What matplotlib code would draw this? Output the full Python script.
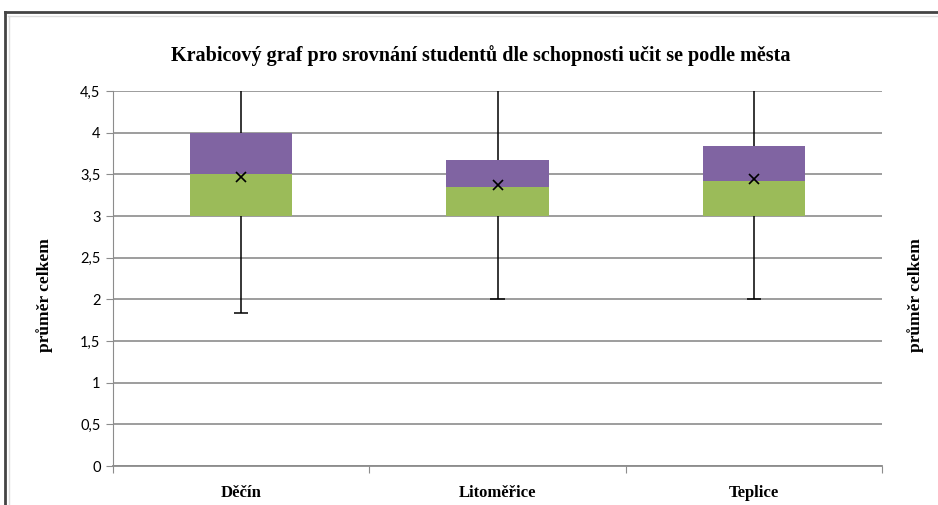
import matplotlib.pyplot as plt
from matplotlib.lines import Line2D
import numpy as np

# data
cities = ["Děčín", "Litoměřice", "Teplice"]
minimum = [1.84, 2.0, 2.0]
q1 = [3.0, 3.0, 3.0]
median = [3.5, 3.35, 3.42]
q3 = [4.0, 3.67, 3.84]
maximum = [4.5, 4.5, 4.5]
mean = [3.47, 3.37, 3.44]
yticks = [0, 0.5, 1, 1.5, 2, 2.5, 3, 3.5, 4, 4.5]

green = "#9BBB59"
purple = "#8064A2"
serif = "Liberation Serif"

fig = plt.figure(figsize=(9.38, 5.05), dpi=100)
ax = fig.add_axes([0.1205, 0.0772, 0.8198, 0.7426])

x = np.arange(len(cities))
lower = np.array(median) - np.array(q1)
upper = np.array(q3) - np.array(median)

# whiskers behind the boxes
ax.vlines(x, minimum, maximum, color="black", lw=1.1, zorder=2)
ax.hlines(minimum, x - 0.028, x + 0.028, color="black", lw=1.1, zorder=2)

ax.bar(x, lower, bottom=q1, width=0.4, color=green, zorder=3)
ax.bar(x, upper, bottom=median, width=0.4, color=purple, zorder=3)
ax.plot(x, mean, "x", color="black", ms=7, mew=1.2, zorder=4)

ax.set_xlim(-0.5, 2.5)
ax.set_ylim(0, 4.5)
ax.set_yticks(yticks)
ax.set_yticklabels([str(t).replace(".", ",").replace(",0", "") for t in yticks],
                   fontfamily="Lato", fontsize=10.5)
ax.yaxis.grid(True, color="#8c8c8c", lw=1.2)
ax.set_axisbelow(True)

ax.set_xticks([-0.5, 0.5, 1.5, 2.5])
ax.set_xticklabels([])
ax.set_xticks(x, minor=True)
ax.set_xticklabels(cities, minor=True, fontfamily=serif, fontweight="bold", fontsize=12)
ax.tick_params(axis="x", which="minor", length=0, pad=14)
ax.tick_params(axis="x", which="major", length=5, color="#8c8c8c")
ax.tick_params(axis="y", length=5, color="#8c8c8c", pad=4)

for s in ["top", "right"]:
    ax.spines[s].set_visible(False)
ax.spines["left"].set_color("#8c8c8c")
ax.spines["bottom"].set_color("#8c8c8c")
ax.spines["bottom"].set_linewidth(1.3)

fig.text(0.512, 0.891, "Krabicový graf pro srovnání studentů dle schopnosti učit se podle města",
         ha="center", va="center", fontfamily=serif, fontweight="bold", fontsize=14.5)
fig.text(0.048, 0.416, "průměr celkem", rotation=90, ha="center", va="center",
         fontfamily=serif, fontweight="bold", fontsize=12.5)
fig.text(0.976, 0.416, "průměr celkem", rotation=90, ha="center", va="center",
         fontfamily=serif, fontweight="bold", fontsize=12.5)

# screenshot frame (top and left edges)
fig.add_artist(Line2D([5 / 938, 1], [1 - 12 / 505] * 2, color="#444444", lw=2))
fig.add_artist(Line2D([5 / 938] * 2, [0, 1 - 12 / 505], color="#444444", lw=2))
fig.add_artist(Line2D([8 / 938, 1], [1 - 16 / 505] * 2, color="#dddddd", lw=1))
fig.add_artist(Line2D([9 / 938] * 2, [0, 1 - 16 / 505], color="#dddddd", lw=1))

plt.savefig("out.png", dpi=100)
